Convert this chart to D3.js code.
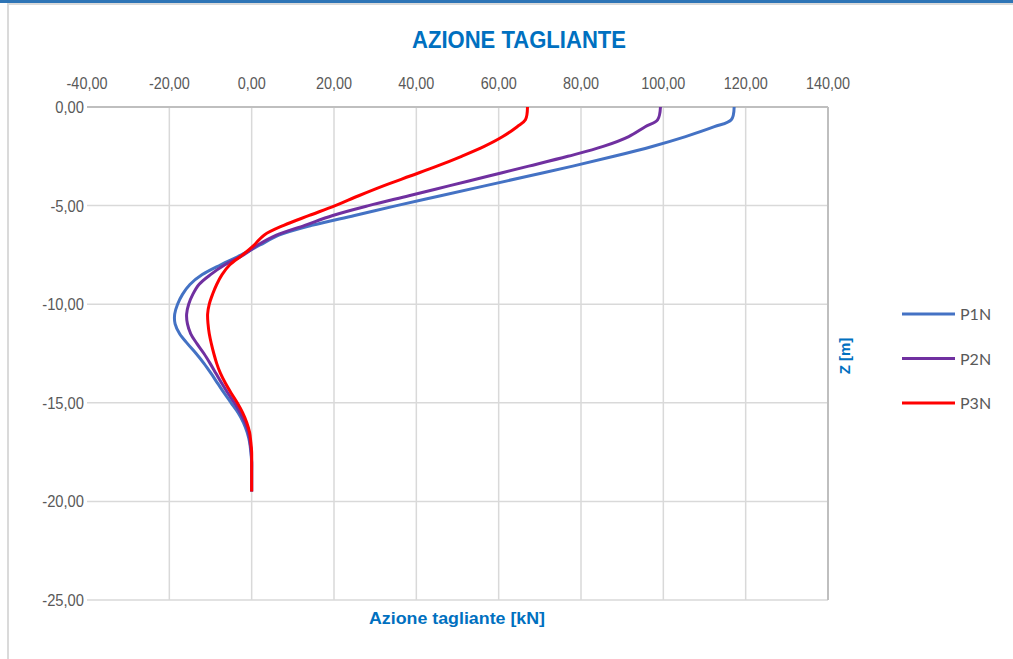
<!DOCTYPE html>
<html>
<head>
<meta charset="utf-8">
<script src="https://cdn.jsdelivr.net/npm/d3@7"></script>
<style>
  body { margin: 0; background: #fff; }
  svg { display: block; }
  .tick-label { font-family: "Liberation Sans Narrow", "Arial Narrow", "Liberation Sans", sans-serif; font-size: 16px; fill: #595959; }
  .legend text { font-family: Lato, "Open Sans", sans-serif; font-size: 16px; fill: #595959; }
  .blue-title { font-family: "Liberation Sans Narrow", "Arial Narrow", "Liberation Sans", sans-serif; font-weight: bold; fill: #0070C0; }
</style>
</head>
<body>
<svg id="chart"></svg>
<script>
const WIDTH = 1013;
const HEIGHT = 659;

// depths (m) shared by all series
const depths = [0, -0.65, -1, -1.5, -2, -2.5, -3, -3.5, -4, -4.5, -5, -5.5, -6, -6.5, -7, -7.5,
  -8, -8.5, -9, -9.5, -10, -10.5, -11, -11.5, -12, -12.5, -13, -13.5, -14, -14.5, -15, -15.5,
  -16, -16.5, -17, -17.5, -18, -18.5, -19, -19.5];

const p1n = [117.2, 116.5, 112.4, 105.4, 97.3, 88, 78, 67.3, 56.6, 45.9, 35.2, 25, 14.6, 6.6, 2, -2.5,
  -7.5, -12, -15, -16.8, -18, -18.7, -18.6, -17.5, -15.6, -13.5, -11.6, -9.9, -8.3, -6.7, -5, -3.3,
  -2, -1.1, -0.5, -0.2, 0, 0, 0, 0];
const p2n = [99.3, 98.6, 95.6, 91.6, 85.4, 76.8, 67.3, 57.6, 47.9, 38.2, 28.4, 19.7, 12.9, 6, 1.5, -2,
  -6.5, -10, -12.8, -14.3, -15.3, -15.8, -15.6, -14.8, -13.3, -11.6, -10.1, -8.7, -7.3, -5.8, -4.2, -2.8,
  -1.6, -0.8, -0.4, -0.1, 0, 0, 0, 0];
const p3n = [67, 66.5, 64.5, 61, 56.5, 51, 45, 38.5, 32, 26, 20.3, 14, 7.8, 3, 0.6, -2.2,
  -5.3, -7.2, -8.5, -9.5, -10.3, -10.7, -10.6, -10.3, -9.8, -9.2, -8.5, -7.6, -6.4, -5, -3.5, -2.2,
  -1.2, -0.5, -0.2, 0, 0, 0, 0, 0];

const seriesNames = ['P1N', 'P2N', 'P3N'];
const seriesColors = ['#4472C4', '#7030A0', '#FF0000'];
const seriesValues = [p1n, p2n, p3n];

const xTicks = [-40, -20, 0, 20, 40, 60, 80, 100, 120, 140];
const yTicks = [0, -5, -10, -15, -20, -25];

const fmt = v => d3.format('.2f')(v).replace('.', ',').replace('−', '-');

// narrow the text a bit, the original uses a condensed face
function squeeze(sel, k) {
  sel.each(function () {
    const w = this.getComputedTextLength();
    d3.select(this).attr('textLength', w * k).attr('lengthAdjust', 'spacingAndGlyphs');
  });
}

const svg = d3.select('#chart')
  .attr('width', WIDTH)
  .attr('height', HEIGHT);

// frame
svg.append('rect').attr('x', 0).attr('y', 0).attr('width', WIDTH).attr('height', 3).attr('fill', '#2E75B6');
svg.append('rect').attr('x', 8).attr('y', 4).attr('width', WIDTH).attr('height', HEIGHT + 10)
  .attr('fill', 'none').attr('stroke', '#DADADA').attr('stroke-width', 2);

const x = d3.scaleLinear().domain([-40, 140]).range([87, 828]);
const y = d3.scaleLinear().domain([0, -25]).range([107, 600]);

// gridlines
svg.append('g').selectAll('line')
  .data(xTicks.filter(t => t > -40 && t < 140))
  .join('line')
  .attr('x1', d => x(d)).attr('x2', d => x(d))
  .attr('y1', y(0)).attr('y2', y(-25))
  .attr('stroke', '#D9D9D9').attr('stroke-width', 1.5);

svg.append('g').selectAll('line')
  .data(yTicks.filter(t => t < 0))
  .join('line')
  .attr('x1', x(-40)).attr('x2', x(140))
  .attr('y1', d => y(d)).attr('y2', d => y(d))
  .attr('stroke', '#D9D9D9').attr('stroke-width', 1.5);

// axis lines (top and right)
svg.append('line').attr('x1', x(-40)).attr('x2', x(140)).attr('y1', y(0)).attr('y2', y(0))
  .attr('stroke', '#BFBFBF').attr('stroke-width', 2);
svg.append('line').attr('x1', x(140)).attr('x2', x(140)).attr('y1', y(0)).attr('y2', y(-25))
  .attr('stroke', '#BFBFBF').attr('stroke-width', 2);

// tick labels
svg.append('g').selectAll('text')
  .data(xTicks)
  .join('text')
  .attr('class', 'tick-label')
  .attr('x', d => x(d))
  .attr('y', 89)
  .attr('text-anchor', 'middle')
  .text(fmt)
  .call(squeeze, 0.9);

svg.append('g').selectAll('text')
  .data(yTicks)
  .join('text')
  .attr('class', 'tick-label')
  .attr('x', 84)
  .attr('y', d => y(d) + 6)
  .attr('text-anchor', 'end')
  .text(fmt)
  .call(squeeze, 0.92);

// series
const line = d3.line()
  .x(d => x(d[1]))
  .y(d => y(d[0]))
  .curve(d3.curveCatmullRom.alpha(0.5));

seriesValues.forEach((vals, i) => {
  svg.append('path')
    .datum(depths.map((z, k) => [z, vals[k]]))
    .attr('d', line)
    .attr('fill', 'none')
    .attr('stroke', seriesColors[i])
    .attr('stroke-width', 3)
    .attr('stroke-linejoin', 'round');
});

// titles
svg.append('text')
  .attr('class', 'blue-title')
  .attr('x', 519).attr('y', 48)
  .attr('text-anchor', 'middle')
  .style('font-size', '23px')
  .attr('textLength', 214)
  .attr('lengthAdjust', 'spacingAndGlyphs')
  .text('AZIONE TAGLIANTE');

svg.append('text')
  .attr('class', 'blue-title')
  .attr('x', 457).attr('y', 624)
  .attr('text-anchor', 'middle')
  .style('font-size', '17px')
  .attr('textLength', 176)
  .attr('lengthAdjust', 'spacingAndGlyphs')
  .text('Azione tagliante [kN]');

svg.append('text')
  .attr('class', 'blue-title')
  .attr('transform', 'translate(850,356) rotate(-90)')
  .attr('text-anchor', 'middle')
  .style('font-size', '15px')
  .text('Z [m]');

// legend
const legend = svg.append('g').attr('class', 'legend')
  .selectAll('g')
  .data(seriesNames)
  .join('g')
  .attr('transform', (d, i) => `translate(902,${314 + i * 44.5})`);

legend.append('line')
  .attr('x1', 0).attr('x2', 53)
  .attr('stroke', (d, i) => seriesColors[i])
  .attr('stroke-width', 3);

legend.append('text')
  .attr('x', 58).attr('y', 6)
  .text(d => d);
</script>
</body>
</html>
